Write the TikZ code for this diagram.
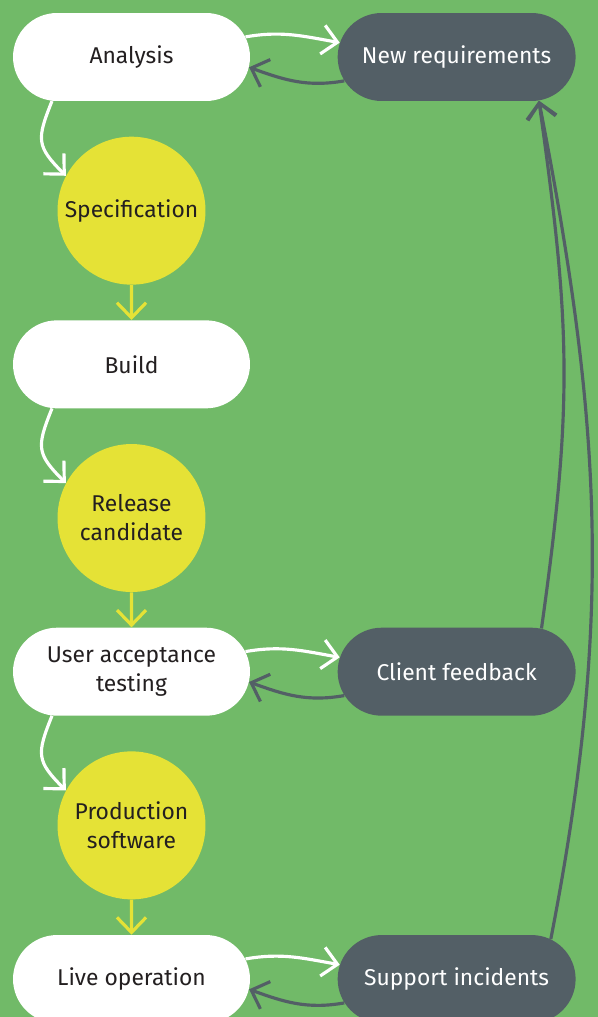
\documentclass[tikz,border=0pt]{standalone}
\usepackage{fontspec}
\setmainfont{Fira Sans}
\usepackage{tikz}
\usetikzlibrary{shapes.misc, arrows.meta, positioning}
\definecolor{bggreen}{HTML}{71BA68}
\definecolor{slate}{HTML}{535F66}
\definecolor{lemon}{HTML}{E5E236}
\definecolor{ink}{HTML}{231F20}
\tikzstyle{stage} = [rounded rectangle, minimum width=4.74cm, minimum height=1.76cm, text centered, fill=white, text=ink, inner sep=0pt]
\tikzstyle{extra} = [rounded rectangle, minimum width=4.76cm, minimum height=1.76cm, text centered, fill=slate, text=white, inner sep=0pt]
\tikzstyle{output} = [circle, minimum size=2.96cm, align=center, fill=lemon, text=ink, inner sep=0pt]
\tikzstyle{arrow} = [line width=1.8pt, -{Straight Barb[length=0.3cm, width=0.58cm]}]

\begin{document}
\begin{tikzpicture}[x=0.02cm, y=0.02cm, node distance=0.7cm,
  font=\fontsize{13}{16.5}\selectfont]

%==============================================
%Fondo
%==============================================
\fill[bggreen] (0,0) rectangle (598,-1017);
\useasboundingbox (0,0) rectangle (598,-1017);
\clip (0,0) rectangle (598,-1017);

%Columna izquierda==============================================
\node (analysis) [stage] at (131.5,-57) {Analysis};
\node (spec) [output, below=of analysis] {Specification};
\node (build) [stage, below=of spec] {Build};
\node (relc) [output, below=of build] {Release\\candidate};
\node (uat) [stage, below=of relc, align=center] {User acceptance\\testing};
\node (prod) [output, below=of uat] {Production\\software};
\node (live) [stage, below=of prod] {Live operation};

%Columna derecha==============================================
\node (newreq) [extra, right=1.74cm of analysis] {New requirements};
\node (feedback) [extra, right=1.74cm of uat] {Client feedback};
\node (incid) [extra, right=1.74cm of live] {Support incidents};

%Flechas==============================================
\draw [arrow, white] (analysis.209) to [out=-112, in=135, looseness=1.4] (spec.152);
\draw [arrow, white] (build.209) to [out=-112, in=135, looseness=1.4] (relc.152);
\draw [arrow, white] (uat.209) to [out=-112, in=135, looseness=1.4] (prod.152);
\draw [arrow, lemon] (spec) -- (build);
\draw [arrow, lemon] (relc) -- (uat);
\draw [arrow, lemon] (prod) -- (live);

\draw [arrow, white] (analysis.10) to [out=10, in=170] (newreq.173);
\draw [arrow, slate] (newreq.192) to [out=190, in=-20] (analysis.-5);
\draw [arrow, white] (uat.10) to [out=10, in=170] (feedback.173);
\draw [arrow, slate] (feedback.192) to [out=190, in=-20] (uat.-5);
\draw [arrow, white] (live.10) to [out=10, in=170] (incid.173);
\draw [arrow, slate] (incid.192) to [out=190, in=-20] (live.-5);

\draw [arrow, slate] (feedback.27) to [out=82, in=-82, looseness=1.1] (newreq.-28);
\draw [arrow, slate] (incid.23) to [out=79, in=-79] (newreq.-28);
\end{tikzpicture}
\end{document}
